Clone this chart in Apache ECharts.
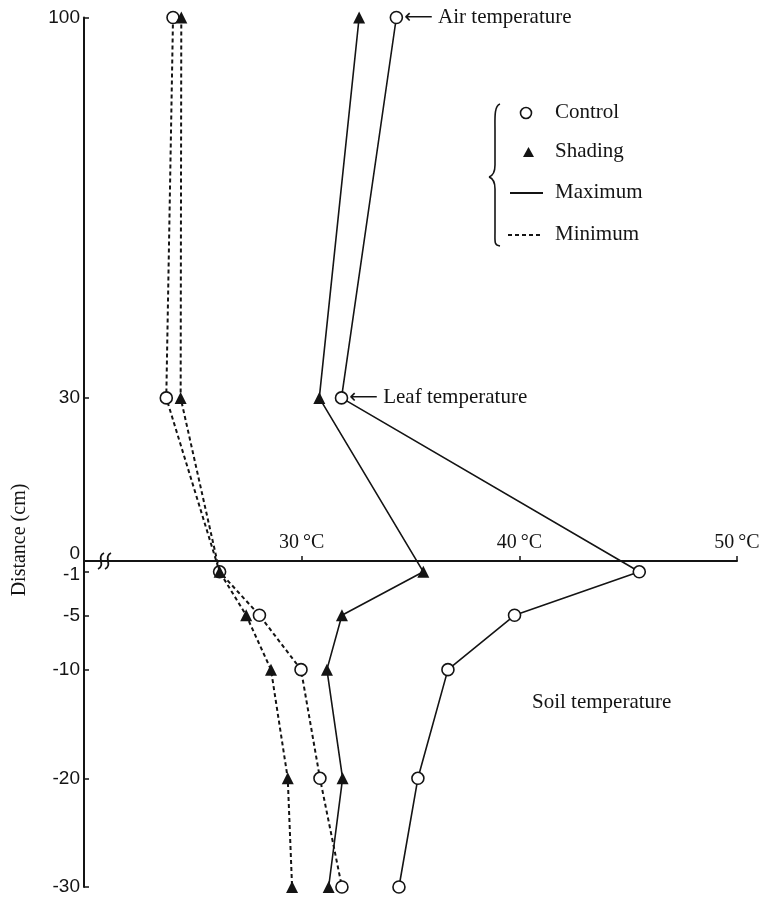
<!DOCTYPE html>
<html>
<head>
<meta charset="utf-8">
<script src="https://cdn.jsdelivr.net/npm/echarts@6/dist/echarts.min.js"></script>
<style>
html,body{margin:0;padding:0;background:#fff;}
#chart{width:760px;height:898px;}
</style>
</head>
<body>
<div id="chart"></div>
<script>
// Distance (cm) of each measurement
const distances = [100, 30, -1, -5, -10, -20, -30];
// Temperatures (°C)
const controlMax = [34.35, 31.83, 45.51, 39.78, 36.72, 35.34, 34.47];
const shadingMax = [32.64, 30.81, 35.59, 31.85, 31.16, 31.88, 31.24];
const controlMin = [24.09, 23.78, 26.23, 28.06, 29.97, 30.84, 31.85];
const shadingMin = [24.47, 24.44, 26.23, 27.45, 28.59, 29.36, 29.56];
// Tick labels
const yTickLabels = [100, 30, 0, -1, -5, -10, -20, -30];
const xTickLabels = [30, 40, 50];

// below-ground distances drawn at double scale
const fwd = d => d >= 0 ? d : 2 * d;
const inv = v => v >= 0 ? v : v / 2;

const INK = '#141414';
const SERIF = '"Liberation Serif", "DejaVu Serif", serif';

function pts(temps) { return temps.map((t, i) => [t, fwd(distances[i])]); }

const chart = echarts.init(document.getElementById('chart'), null, {renderer: 'canvas'});

const circleStyle = {color: '#fff', borderColor: INK, borderWidth: 1.6, opacity: 1};
const triStyle = {color: INK, borderColor: INK, borderWidth: 0, opacity: 1};

const cmData = pts(controlMax).map((p, i) => {
  const item = {value: p};
  if (distances[i] === 100) {
    item.label = {show: true, position: 'right', distance: 1,
      formatter: '{a|⟵}{t| Air temperature}',
      rich: {a: {fontFamily: 'DejaVu Sans', fontSize: 20, color: INK},
             t: {fontFamily: SERIF, fontSize: 21, color: INK}}};
  }
  if (distances[i] === 30) {
    item.label = {show: true, position: 'right', distance: 1,
      formatter: '{a|⟵}{t| Leaf temperature}',
      rich: {a: {fontFamily: 'DejaVu Sans', fontSize: 20, color: INK},
             t: {fontFamily: SERIF, fontSize: 21, color: INK}}};
  }
  return item;
});

const brace = [
  {type: 'bezierCurve', shape: {x1: 500, y1: 104, cpx1: 494, cpy1: 106, cpx2: 495, cpy2: 118, x2: 495, y2: 130}},
  {type: 'line', shape: {x1: 495, y1: 130, x2: 495, y2: 165}},
  {type: 'bezierCurve', shape: {x1: 495, y1: 165, cpx1: 495, cpy1: 172, cpx2: 492, cpy2: 176, x2: 489, y2: 177}},
  {type: 'bezierCurve', shape: {x1: 489, y1: 177, cpx1: 492, cpy1: 178, cpx2: 495, cpy2: 182, x2: 495, y2: 189}},
  {type: 'line', shape: {x1: 495, y1: 189, x2: 495, y2: 232}},
  {type: 'bezierCurve', shape: {x1: 495, y1: 232, cpx1: 495, cpy1: 242, cpx2: 494, cpy2: 245, x2: 500, y2: 246}}
].map(e => Object.assign(e, {style: {stroke: INK, lineWidth: 1.6, fill: null}, z: 100}));

const breakMarks = [101, 108].map(x => ({
  type: 'bezierCurve',
  shape: {x1: x + 3, y1: 553, cpx1: x - 5, cpy1: 557, cpx2: x + 5, cpy2: 565, x2: x - 3, y2: 569},
  style: {stroke: INK, lineWidth: 1.8, fill: null}, z: 100
}));

const legendText = (txt, y) => ({type: 'text', left: 555, top: y - 11,
  style: {text: txt, font: '21px ' + SERIF, fill: INK}, z: 100});

const option = {
  backgroundColor: '#fff',
  animation: false,
  grid: {left: 84, right: 23, top: 17.5, bottom: 11, containLabel: false, outerBoundsMode: 'none'},
  xAxis: {
    type: 'value', min: 20, max: 50, position: 'top',
    axisLine: {show: true, onZero: true, lineStyle: {color: INK, width: 2}},
    axisTick: {show: true, customValues: xTickLabels, length: 5, lineStyle: {color: INK, width: 1.5}},
    axisLabel: {show: false},
    splitLine: {show: false}
  },
  yAxis: {
    type: 'value', min: -60, max: 100,
    axisLine: {show: true, onZero: false, lineStyle: {color: INK, width: 2}},
    axisTick: {show: true, inside: true, length: 5, customValues: yTickLabels.map(fwd), lineStyle: {color: INK, width: 1.5}},
    axisLabel: {show: true, customValues: yTickLabels.map(fwd), margin: 4,
      fontFamily: '"Liberation Sans", Arial, sans-serif', fontSize: 19, color: INK,
      formatter: v => {
        const d = Math.round(inv(v));
        if (d === 0) return '{up|0}';
        if (d === -1) return '{dn|-1}';
        return String(d);
      },
      rich: {
        up: {fontFamily: '"Liberation Sans", Arial, sans-serif', fontSize: 19, color: INK, padding: [0, 0, 14, 0]},
        dn: {fontFamily: '"Liberation Sans", Arial, sans-serif', fontSize: 19, color: INK, padding: [5, 0, 0, 0]}
      }
    },
    splitLine: {show: false}
  },
  series: [
    {name: 'Control maximum', type: 'line', data: cmData, symbol: 'circle', symbolSize: 12,
     itemStyle: circleStyle, lineStyle: {color: INK, width: 1.6}, z: 3},
    {name: 'Shading maximum', type: 'line', data: pts(shadingMax), symbol: 'triangle', symbolSize: 12,
     itemStyle: triStyle, lineStyle: {color: INK, width: 1.6}, z: 3},
    {name: 'Control minimum', type: 'line', data: pts(controlMin), symbol: 'circle', symbolSize: 12,
     itemStyle: circleStyle, lineStyle: {color: INK, width: 2, type: [4, 3]}, z: 3},
    {name: 'Shading minimum', type: 'line', data: pts(shadingMin), symbol: 'triangle', symbolSize: 12,
     itemStyle: triStyle, lineStyle: {color: INK, width: 2, type: [4, 3]}, z: 4},
    {name: 'x labels', type: 'scatter', silent: true, symbolSize: 0,
     itemStyle: {opacity: 1, color: INK},
     data: xTickLabels.map(t => [t, fwd(0)]),
     label: {show: true, position: 'top', distance: 8, formatter: p => p.value[0] + '\u2009°C',
       fontFamily: SERIF, fontSize: 20, color: INK, opacity: 1}, z: 5}
  ],
  graphic: [
    {type: 'text', x: 20, y: 540, rotation: Math.PI / 2,
     style: {text: 'Distance (cm)', font: '20px ' + SERIF, fill: INK, align: 'center', verticalAlign: 'middle'}},
    {type: 'text', left: 532, top: 692,
     style: {text: 'Soil temperature', font: '21px ' + SERIF, fill: INK}},
    {type: 'circle', shape: {cx: 526, cy: 113, r: 5.5}, style: {fill: '#fff', stroke: INK, lineWidth: 1.6}, z: 100},
    legendText('Control', 113),
    {type: 'polygon', shape: {points: [[523, 157], [534, 157], [528.5, 147]]}, style: {fill: INK}, z: 100},
    legendText('Shading', 152),
    {type: 'line', shape: {x1: 510, y1: 193, x2: 543, y2: 193}, style: {stroke: INK, lineWidth: 2}, z: 100},
    legendText('Maximum', 193),
    {type: 'line', shape: {x1: 508, y1: 235, x2: 543, y2: 235}, style: {stroke: INK, lineWidth: 2, lineDash: [4, 3]}, z: 100},
    legendText('Minimum', 235)
  ].concat(brace, breakMarks)
};

chart.setOption(option);
</script>
</body>
</html>
